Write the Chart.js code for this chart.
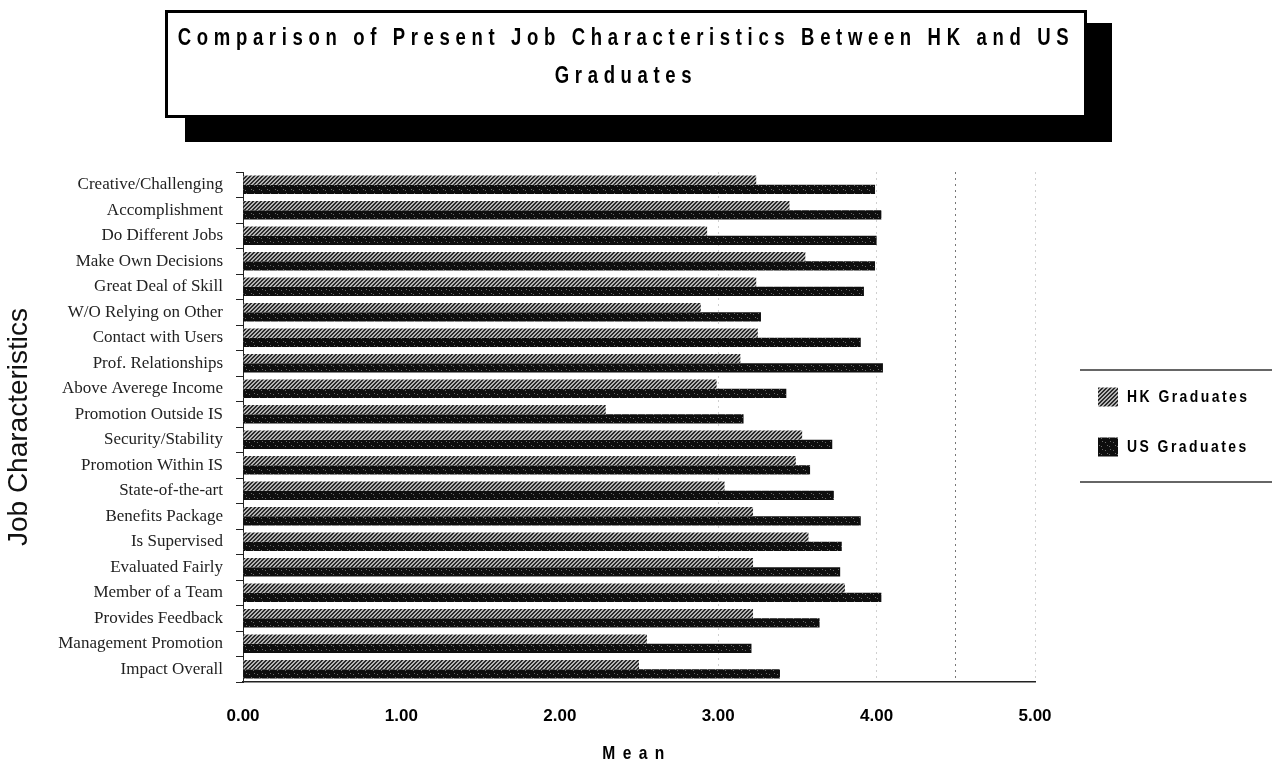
<!DOCTYPE html>
<html>
<head>
<meta charset="utf-8">
<script src="https://cdn.jsdelivr.net/npm/chart.js@4.4.1/dist/chart.umd.min.js"></script>
<style>
html,body{margin:0;padding:0;background:#fff;width:1276px;height:764px;overflow:hidden;}
#wrap{position:relative;width:1276px;height:764px;}
#c{position:absolute;left:0;top:0;}
#shadow{position:absolute;left:185px;top:23px;width:927px;height:119px;background:#000;}
#tbox{position:absolute;left:165px;top:10px;width:916px;height:102px;border:3px solid #000;background:#fff;overflow:hidden;
  font-family:"Liberation Sans",Arial,sans-serif;font-weight:bold;font-size:23px;letter-spacing:7px;color:#000;}
.tl{position:absolute;left:50%;white-space:nowrap;line-height:26px;transform:translateX(-50%) scaleX(0.806);}
</style>
</head>
<body>
<div id="wrap">
  <canvas id="c" width="1276" height="764"></canvas>
  <div id="shadow"></div>
  <div id="tbox"><span class="tl" style="top:11px;">Comparison of Present Job Characteristics Between HK and US</span><span class="tl" style="top:49px;">Graduates</span></div>
</div>
<script>
// ---- data ----
const categories = [
  'Creative/Challenging','Accomplishment','Do Different Jobs','Make Own Decisions',
  'Great Deal of Skill','W/O Relying on Other','Contact with Users','Prof. Relationships',
  'Above Averege Income','Promotion Outside IS','Security/Stability','Promotion Within IS',
  'State-of-the-art','Benefits Package','Is Supervised','Evaluated Fairly',
  'Member of a Team','Provides Feedback','Management Promotion','Impact Overall'
];
const hkValues = [3.24,3.45,2.93,3.55,3.24,2.89,3.25,3.14,2.99,2.29,3.53,3.49,3.04,3.22,3.57,3.22,3.80,3.22,2.55,2.50];
const usValues = [3.99,4.03,4.00,3.99,3.92,3.27,3.90,4.04,3.43,3.16,3.72,3.58,3.73,3.90,3.78,3.77,4.03,3.64,3.21,3.39];
const seriesNames = ['HK Graduates','US Graduates'];
const xTickLabels = ['0.00','1.00','2.00','3.00','4.00','5.00'];
const xAxisTitle = 'Mean';
const yAxisTitle = 'Job Characteristics';

// ---- fill patterns ----
function hkPattern(){
  const c=document.createElement('canvas'); c.width=4; c.height=4;
  const x=c.getContext('2d');
  x.fillStyle='#2a2a2a'; x.fillRect(0,0,4,4);
  x.fillStyle='#b5b5b5';
  const pts=[[3,0],[0,0],[2,1],[3,1],[1,2],[2,2],[0,3],[1,3]];
  pts.forEach(p=>x.fillRect(p[0],p[1],1,1));
  return x.createPattern(c,'repeat');
}
function usPattern(){
  const c=document.createElement('canvas'); c.width=8; c.height=8;
  const x=c.getContext('2d');
  x.fillStyle='#0e0e0e'; x.fillRect(0,0,8,8);
  x.fillStyle='#6a6a6a';
  [[1,2],[5,6],[6,1],[3,5]].forEach(p=>x.fillRect(p[0],p[1],1,1));
  return x.createPattern(c,'repeat');
}
const fills=[hkPattern(),usPattern()];

const SANS='"Liberation Sans",Arial,sans-serif';
const SQUEEZE=0.82;

function condensedText(ctx,text,x,y,spacing){
  ctx.save();
  ctx.translate(x,y);
  ctx.scale(SQUEEZE,1);
  ctx.letterSpacing=spacing+'px';
  ctx.fillText(text,0,0);
  ctx.restore();
}

const customDraw={
  id:'customDraw',
  afterDraw(chart){
    const ctx=chart.ctx, ca=chart.chartArea;
    ctx.save();
    // x axis title
    ctx.font='bold 19px '+SANS;
    ctx.fillStyle='#000'; ctx.textAlign='center'; ctx.textBaseline='middle';
    condensedText(ctx,xAxisTitle,(ca.left+ca.right)/2-2,754,9);
    // legend box
    ctx.strokeStyle='#333'; ctx.lineWidth=1.5;
    ctx.beginPath(); ctx.moveTo(1080,370); ctx.lineTo(1272,370); ctx.stroke();
    ctx.beginPath(); ctx.moveTo(1080,482); ctx.lineTo(1272,482); ctx.stroke();
    ctx.font='bold 17px '+SANS;
    ctx.textAlign='left';
    chart.data.datasets.forEach((ds,i)=>{
      const yc=397+i*50;
      ctx.fillStyle=ds.backgroundColor;
      ctx.fillRect(1098,yc-9.5,20,19);
      ctx.fillStyle='#000';
      condensedText(ctx,ds.label,1127,yc,3);
    });
    ctx.restore();
  }
};

new Chart(document.getElementById('c'),{
  type:'bar',
  data:{
    labels:categories,
    datasets:[
      {label:seriesNames[0],data:hkValues,backgroundColor:fills[0],borderWidth:0,categoryPercentage:0.72,barPercentage:1.0},
      {label:seriesNames[1],data:usValues,backgroundColor:fills[1],borderWidth:0,categoryPercentage:0.72,barPercentage:1.0}
    ]
  },
  options:{
    indexAxis:'y',
    responsive:false,
    animation:false,
    devicePixelRatio:1,
    layout:{padding:{top:172,right:241,left:0,bottom:0}},
    plugins:{legend:{display:false},tooltip:{enabled:false},title:{display:false}},
    scales:{
      x:{
        type:'linear',min:0,max:5,
        afterFit(s){ s.height=82; },
        afterBuildTicks(s){ s.ticks=[0,0.5,1,1.5,2,2.5,3,3.5,4,4.5,5].map(v=>({value:v})); },
        ticks:{
          autoSkip:false,maxRotation:0,padding:24,color:'#000',
          font:{family:SANS,size:17,weight:'bold'},
          callback:(v)=>Number.isInteger(v)?xTickLabels[v]:''
        },
        grid:{
          drawTicks:false,lineWidth:1,
          color:(c)=>{const v=c.tick?c.tick.value:null; if(v===4.5)return '#777'; if(v===3||v===4||v===5)return '#cfcfcf'; return 'rgba(0,0,0,0)';}
        },
        border:{display:true,color:'#222',width:1.5,dash:[2,4]},
        title:{display:false}
      },
      y:{
        afterFit(s){ s.width=243; },
        ticks:{
          autoSkip:false,padding:13,color:'#222',
          font:{family:'"Liberation Serif","Times New Roman",serif',size:17}
        },
        grid:{drawOnChartArea:false,drawTicks:true,tickLength:7,tickColor:'#222',tickWidth:1},
        border:{display:true,color:'#222',width:1},
        title:{display:true,text:yAxisTitle,color:'#111',padding:{top:2,bottom:4},
          font:{family:SANS,size:28}}
      }
    }
  },
  plugins:[customDraw]
});
</script>
</body>
</html>
